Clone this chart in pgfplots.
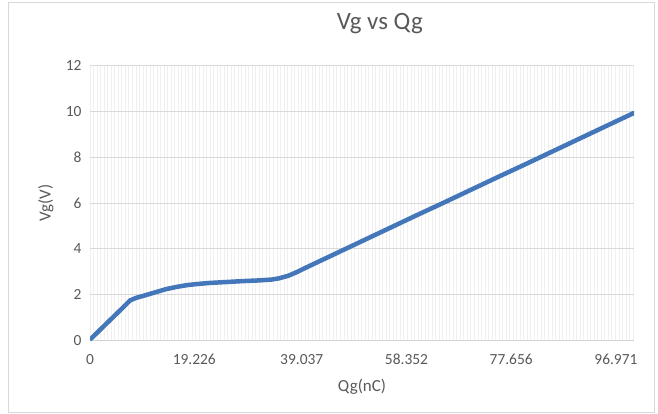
\documentclass[border=0pt]{standalone}
\usepackage{fontspec}
\setmainfont{Carlito}
\usepackage{pgfplots}
\pgfplotsset{compat=1.18}
\definecolor{linblue}{RGB}{68,118,186}
\definecolor{txtgray}{RGB}{89,89,89}
\begin{document}
\begin{tikzpicture}
\useasboundingbox (-90bp,-73.5bp) rectangle (568bp,340.5bp);
\draw[gray!30, line width=1bp] (-81bp,-72bp) rectangle (564bp,338bp);
\begin{axis}[
	at={(0,0)}, anchor=south west,
	scale only axis,
	width=544bp, height=275bp,
	xmin=0, xmax=100.3,
	ymin=0, ymax=12,
	xtick={0,19.226,39.037,58.352,77.656,96.971},
	xticklabels={0,19.226,39.037,58.352,77.656,96.971},
	minor xtick={0,0.65,...,100.3},
	ytick={0,2,4,6,8,10,12},
	yticklabels={0,2,4,6,8,10,12},
	axis lines*=left,
	x axis line style={-, draw=gray!35, line width=1bp},
	y axis line style={draw=none},
	major tick length=0pt, minor tick length=0pt,
	tick style={draw=none},
	ymajorgrids, xminorgrids,
	major grid style={draw=gray!30, line width=0.8bp},
	minor grid style={draw=gray!12, line width=0.6bp},
	tick label style={font=\fontsize{15.5}{18}\selectfont, text=txtgray},
	yticklabel style={anchor=east, xshift=-5bp},
	xticklabel style={anchor=center, yshift=-19bp},
	xlabel={Qg(nC)}, ylabel={Vg(V)},
	label style={font=\fontsize{17}{20}\selectfont, text=txtgray},
	xlabel style={at={(rel axis cs:0.5,-0.169)}, anchor=center},
	ylabel style={at={(rel axis cs:-0.081,0.5)}, anchor=center},
	title={Vg vs Qg},
	title style={at={(rel axis cs:0.533,1.13)}, anchor=center,
		font=\fontsize{25}{29}\selectfont, text=txtgray},
]
\addplot[linblue, line width=4.5bp, line join=round, line cap=round] coordinates {
	(0.2,0.08) (2,0.5) (4,0.96) (6,1.42) (7.4,1.75) (8.5,1.86)
	(10,1.96) (12,2.1) (14,2.24) (16,2.34) (18,2.42) (20,2.47)
	(22,2.51) (25,2.55) (28,2.59) (31,2.62) (33.5,2.66) (34.8,2.71)
	(36.5,2.82) (38,2.97) (40,3.2) (45,3.76) (50,4.32) (55,4.88)
	(60,5.44) (65,5.99) (70,6.55) (75,7.11) (80,7.66) (85,8.22)
	(90,8.78) (95,9.34) (100.2,9.92)
};
\end{axis}
\end{tikzpicture}
\end{document}
